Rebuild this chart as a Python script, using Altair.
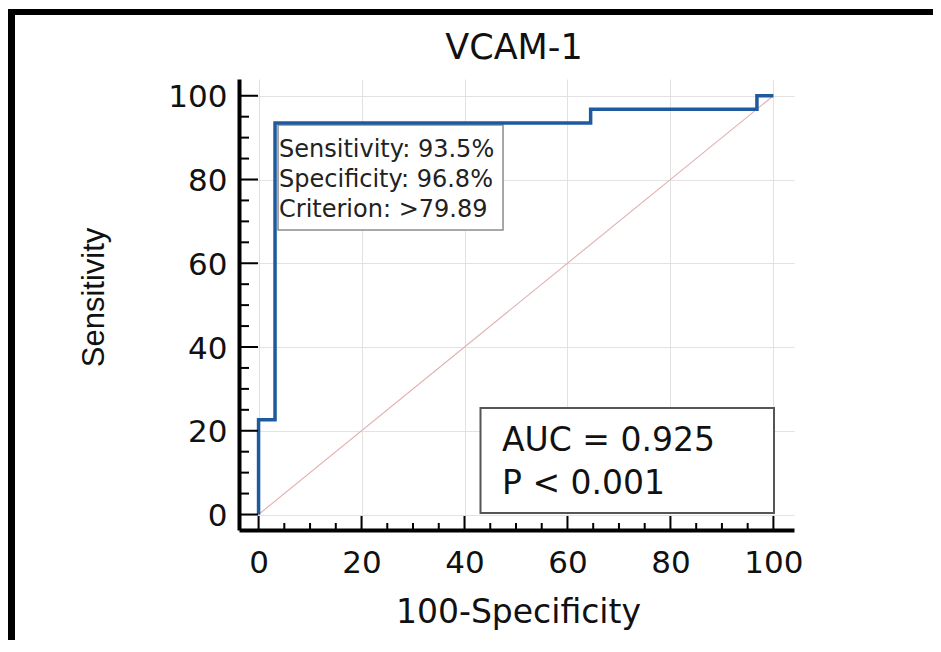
import altair as alt
import pandas as pd

# ---- data ----
roc_fpr = [0, 0, 3.2, 64.5, 96.8, 100]          # 100-Specificity
roc_tpr = [0, 22.6, 93.5, 96.8, 100, 100]       # Sensitivity
diag_fpr = [0, 100]
diag_tpr = [0, 100]
cut_fpr = [3.2]
cut_tpr = [93.5]
criterion_lines = ["Sensitivity: 93.5%", "Specificity: 96.8%", "Criterion: >79.89"]
stats_lines = ["AUC = 0.925", "P < 0.001"]
major_ticks = [0, 20, 40, 60, 80, 100]
minor_ticks = [5, 10, 15, 25, 30, 35, 45, 50, 55, 65, 70, 75, 85, 90, 95]
chart_title = "VCAM-1"
x_title = "100-Specificity"
y_title = "Sensitivity"

W, H = 555, 451
FONT = "DejaVu Sans"

xs = alt.Scale(domain=[-3.8, 104], nice=False, zero=False)
ys = alt.Scale(domain=[-3.7, 104], nice=False, zero=False)

roc_df = pd.DataFrame({"fpr": roc_fpr, "tpr": roc_tpr})
diag_df = pd.DataFrame({"fpr": diag_fpr, "tpr": diag_tpr})
cut_df = pd.DataFrame({"fpr": cut_fpr, "tpr": cut_tpr})
one = pd.DataFrame({"k": [0]})

x_axis = alt.Axis(
    values=major_ticks, title=x_title, grid=True, gridColor="#e2e2e2", gridWidth=1,
    domain=True, domainColor="black", domainWidth=4, ticks=False, tickSize=0,
    labelFont=FONT, labelFontSize=31, labelColor="#111111", labelPadding=18,
    labelFlush=False, labelOverlap=False,
    titleFont=FONT, titleFontSize=33, titleFontWeight="normal", titleColor="#111111",
    titleX=279, titleY=92, titleBaseline="alphabetic", titleAlign="center",
)
y_axis = alt.Axis(
    values=major_ticks, title=y_title, grid=True, gridColor="#e2e2e2", gridWidth=1,
    domain=True, domainColor="black", domainWidth=4, ticks=False, tickSize=0,
    labelFont=FONT, labelFontSize=31, labelColor="#111111", labelPadding=12,
    labelFlush=False, labelOverlap=False, labelOffset=2,
    titleFont="Liberation Sans", titleFontSize=31, titleFontWeight="normal",
    titleColor="#111111", titleAngle=270,
    titleX=-136, titleY=218, titleBaseline="alphabetic", titleAlign="center",
)


def X(field):
    return alt.X(field, scale=xs, axis=x_axis, title=x_title)


def Y(field):
    return alt.Y(field, scale=ys, axis=y_axis, title=y_title)


# diagonal reference line
diag = alt.Chart(diag_df).mark_line(color="#e3aeae", strokeWidth=1.1).encode(
    x=X("fpr:Q"), y=Y("tpr:Q"),
)

# criterion box anchored at the cut-off point
crit_box = alt.Chart(cut_df).mark_rect(
    fill="white", stroke="#8c8c8c", strokeWidth=1.5,
    xOffset=3, x2Offset=228, yOffset=2, y2Offset=107,
).encode(x=X("fpr:Q"), x2="fpr", y=Y("tpr:Q"), y2="tpr")
crit_text = alt.Chart(cut_df).mark_text(
    align="left", baseline="top", dx=4, dy=14.7, font=FONT, fontSize=24,
    lineHeight=30, color="#222222",
).encode(x=X("fpr:Q"), y=Y("tpr:Q"), text=alt.value(criterion_lines))

# AUC box (bottom right)
auc_box = alt.Chart(one).mark_rect(fill="white", stroke="#555555", strokeWidth=2).encode(
    x=alt.value(241.5), x2=alt.value(535), y=alt.value(329), y2=alt.value(434),
)
auc_text = alt.Chart(one).mark_text(
    align="left", baseline="top", font=FONT, fontSize=33, lineHeight=42.5,
    color="#111111",
).encode(x=alt.value(263), y=alt.value(346), text=alt.value(stats_lines))

# ROC step curve
roc = alt.Chart(roc_df).mark_line(
    color="#1f5a9e", strokeWidth=3.5, interpolate="step-after", strokeJoin="miter",
).encode(x=X("fpr:Q"), y=Y("tpr:Q"))

# inward ticks
ymaj = alt.Chart(pd.DataFrame({"v": major_ticks})).mark_rule(color="black", strokeWidth=2).encode(
    y=Y("v:Q"), x=alt.value(0), x2=alt.value(19))
ymin = alt.Chart(pd.DataFrame({"v": minor_ticks})).mark_rule(color="black", strokeWidth=2).encode(
    y=Y("v:Q"), x=alt.value(0), x2=alt.value(10))
xmaj = alt.Chart(pd.DataFrame({"v": major_ticks})).mark_rule(color="black", strokeWidth=2).encode(
    x=X("v:Q"), y=alt.value(H), y2=alt.value(H - 14))
xmin = alt.Chart(pd.DataFrame({"v": minor_ticks})).mark_rule(color="black", strokeWidth=2).encode(
    x=X("v:Q"), y=alt.value(H), y2=alt.value(H - 7))

# title
title = alt.Chart(pd.DataFrame({"t": [chart_title]})).mark_text(
    align="center", baseline="alphabetic", font=FONT, fontSize=35, color="#111111",
).encode(x=alt.value(275), y=alt.value(-20), text="t:N")

# black frame (top and left)
frame_top = alt.Chart(one).mark_rule(color="black", strokeWidth=6).encode(
    x=alt.value(-231), x2=alt.value(694), y=alt.value(-67))
frame_left = alt.Chart(one).mark_rule(color="black", strokeWidth=7).encode(
    x=alt.value(-227.5), y=alt.value(-70), y2=alt.value(561))

chart = alt.layer(
    diag, crit_box, auc_box, roc, crit_text, auc_text,
    ymaj, ymin, xmaj, xmin, title, frame_top, frame_left,
).properties(
    width=W, height=H,
    padding={"left": 231, "top": 71, "right": 139, "bottom": 110},
    autosize=alt.AutoSizeParams(type="none"),
    background="white",
).configure_view(strokeWidth=0)

chart.save("out.html", embed_options={"renderer": "svg", "actions": False})
